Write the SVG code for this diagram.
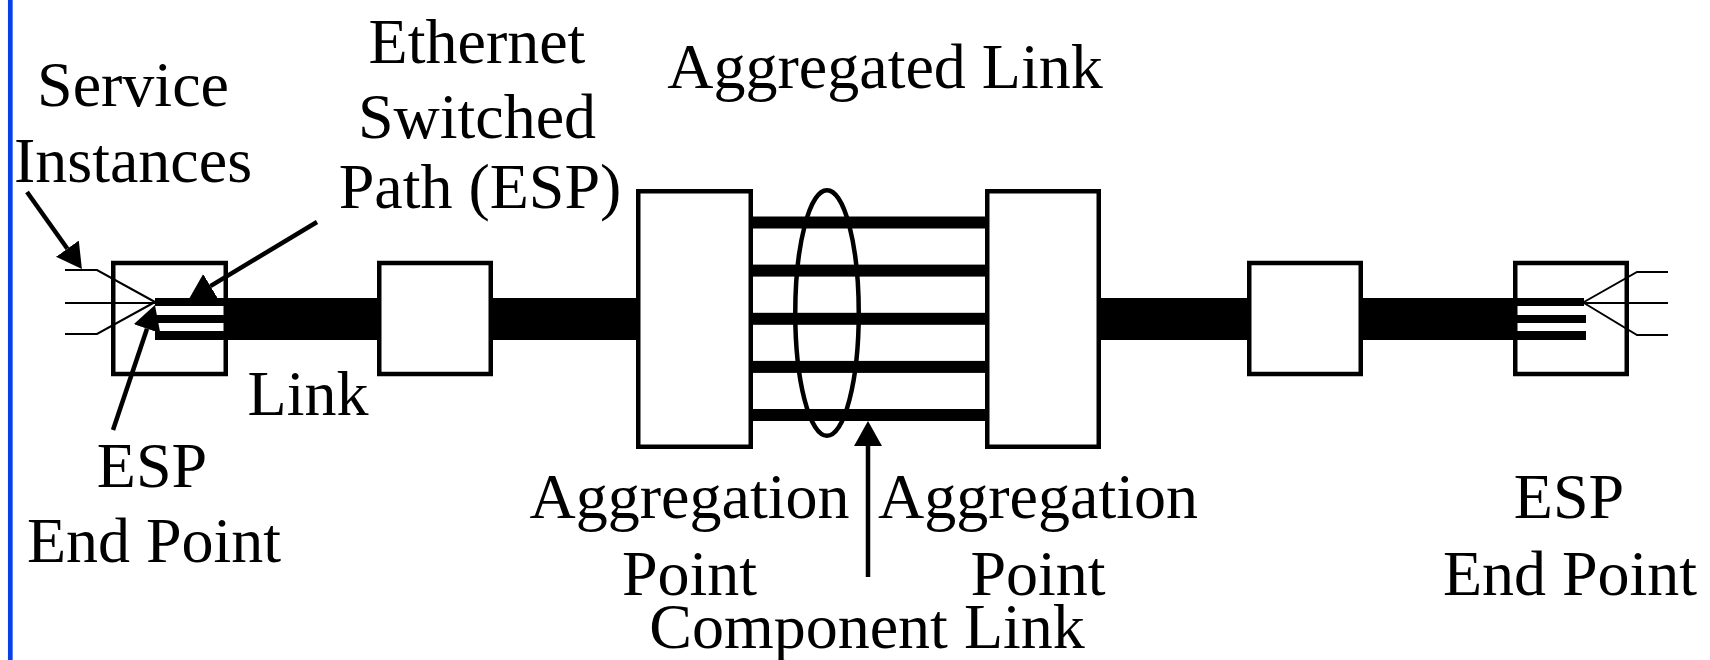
<svg xmlns="http://www.w3.org/2000/svg" width="1710" height="660" viewBox="0 0 1710 660">
<style>
  .box { fill: #ffffff; stroke: #000000; stroke-width: 4.5; }
  .bar { fill: #000000; }
  .thin { fill: none; stroke: #000000; stroke-width: 2; }
  .arrow { fill: none; stroke: #000000; stroke-width: 4.5; marker-end: url(#head); }
  .lbl { font-family: "Liberation Serif", "Times New Roman", serif; font-size: 64px; fill: #000000; text-anchor: middle; }
</style>
<defs>
  <marker id="head" viewBox="0 0 25 28" refX="0" refY="14" markerWidth="25" markerHeight="28" markerUnits="userSpaceOnUse" orient="auto">
    <path d="M0,0 L25,14 L0,28 z" fill="#000000"/>
  </marker>
</defs>
<rect x="0" y="0" width="1710" height="660" fill="#ffffff"/>
<line x1="10.3" y1="0" x2="10.3" y2="660" stroke="#0540e8" stroke-width="4.7"/>

<g id="links">
  <rect class="bar" x="226" y="298" width="154" height="42"/>
  <rect class="bar" x="490" y="298" width="154" height="42"/>
  <rect class="bar" x="1099" y="298" width="151" height="42"/>
  <rect class="bar" x="1361" y="298" width="157" height="42"/>
</g>

<g id="esp-endpoint-left">
  <rect class="box" x="113.25" y="263" width="112.5" height="111"/>
  <rect class="bar" x="155" y="298" width="71" height="8"/>
  <rect class="bar" x="155" y="315" width="71" height="8"/>
  <rect class="bar" x="155" y="331" width="71" height="9"/>
  <polyline class="thin" points="65,270 97,270 155,302"/>
  <polyline class="thin" points="65,303 155,303"/>
  <polyline class="thin" points="65,334 97,334 155,302"/>
</g>

<g id="switch-left">
  <rect class="box" x="379.25" y="263" width="111.5" height="111"/>
</g>

<g id="aggregation-left">
  <rect class="box" x="638.25" y="191.25" width="112.5" height="255.5"/>
</g>

<g id="aggregation-right">
  <rect class="box" x="987.25" y="191.25" width="111.5" height="255.5"/>
</g>

<g id="component-links">
  <rect class="bar" x="750" y="216.5" width="238" height="12"/>
  <rect class="bar" x="750" y="264.6" width="238" height="12"/>
  <rect class="bar" x="750" y="312.8" width="238" height="12"/>
  <rect class="bar" x="750" y="360.9" width="238" height="12"/>
  <rect class="bar" x="750" y="409" width="238" height="12"/>
  <ellipse cx="827" cy="313" rx="31.75" ry="122.75" fill="none" stroke="#000000" stroke-width="4.5"/>
</g>

<g id="switch-right">
  <rect class="box" x="1249.25" y="263" width="111.5" height="111"/>
</g>

<g id="esp-endpoint-right">
  <rect class="box" x="1515.25" y="263" width="111.5" height="111"/>
  <rect class="bar" x="1515" y="298" width="69" height="8"/>
  <rect class="bar" x="1515" y="315" width="71" height="8"/>
  <rect class="bar" x="1515" y="331" width="71" height="9"/>
  <polyline class="thin" points="1668,272 1637,272 1584,302"/>
  <polyline class="thin" points="1668,303 1584,303"/>
  <polyline class="thin" points="1668,335 1637,335 1584,303"/>
</g>

<g id="connectors">
  <line class="arrow" x1="27" y1="192" x2="67.4" y2="248.7"/>
  <line class="arrow" x1="317" y1="222" x2="210.4" y2="286.1"/>
  <line class="arrow" x1="113" y1="430" x2="147" y2="328.7"/>
  <line class="arrow" x1="868" y1="577" x2="868" y2="446"/>
</g>

<g id="labels">
  <text class="lbl" x="133" y="106">Service</text>
  <text class="lbl" x="133" y="182">Instances</text>
  <text class="lbl" x="477" y="63">Ethernet</text>
  <text class="lbl" x="477" y="138">Switched</text>
  <text class="lbl" x="480" y="208">Path (ESP)</text>
  <text class="lbl" x="885" y="88">Aggregated Link</text>
  <text class="lbl" x="308" y="415">Link</text>
  <text class="lbl" x="152" y="487">ESP</text>
  <text class="lbl" x="154" y="562">End Point</text>
  <text class="lbl" x="689.5" y="518">Aggregation</text>
  <text class="lbl" x="689.5" y="595">Point</text>
  <text class="lbl" x="1038" y="518">Aggregation</text>
  <text class="lbl" x="1038" y="595">Point</text>
  <text class="lbl" x="867" y="648">Component Link</text>
  <text class="lbl" x="1569" y="518">ESP</text>
  <text class="lbl" x="1570" y="595">End Point</text>
</g>
</svg>
